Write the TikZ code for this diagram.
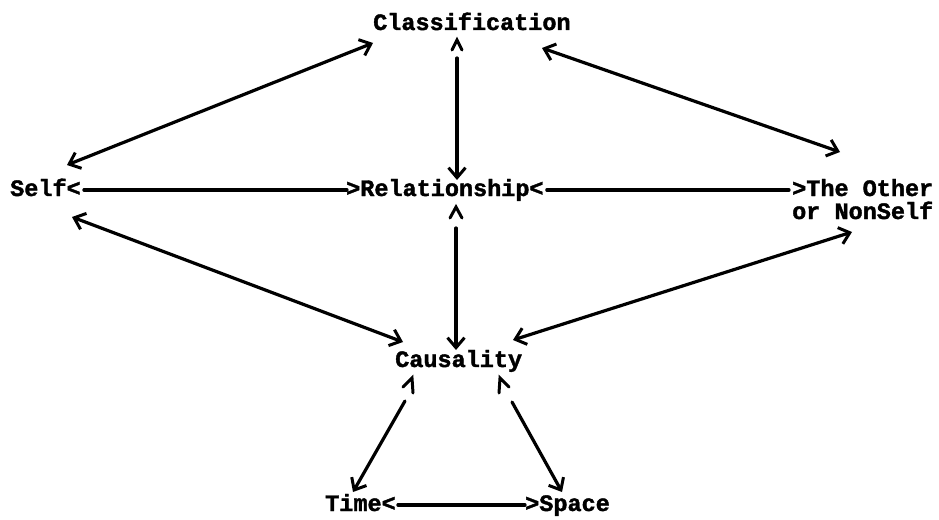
\documentclass[tikz,border=0pt]{standalone}
\usepackage{fontspec}
\newfontfamily\twfont[FakeBold=1.6]{Liberation Mono Bold}
\usetikzlibrary{arrows.meta,calc}
\begin{document}
\begin{tikzpicture}[x=1pt,y=-1pt,
  lbl/.style={font=\twfont\fontsize{23.5}{27}\selectfont, inner sep=0pt, anchor=base west},
  conn/.style={line width=3.2pt, line cap=round},
  tipb/.tip={Straight Barb[length=10pt,width=17pt,line width=3pt]},
  arr/.style={conn, -tipb},
  darr/.style={conn, tipb-tipb},
  caret/.style={line width=3pt, line join=miter, line cap=round}
]
\fill[white] (0,0) rectangle (939,519);
\useasboundingbox (0,0) rectangle (939,519);

% labels
\node[lbl] (class) at (373,30) {Classification};
\node[lbl] (self) at (10,196) {Self<};
\node[lbl] (rel) at (346,196) {>Relationship<};
\node[lbl] (other) at (792,196) {>The Other};
\node[lbl] (other2) at (792,219) {or NonSelf};
\node[lbl] (caus) at (395,367) {Causality};
\node[lbl] (time) at (325,511) {Time<};
\node[lbl] (space) at (525,511) {>Space};

% endpoints of the slanted arrows
\coordinate (sc1) at (67,165);
\coordinate (sc2) at (373,43);
\coordinate (co1) at (542,48);
\coordinate (co2) at (840,152);
\coordinate (sk1) at (72,217);
\coordinate (sk2) at (403,342);
\coordinate (ok1) at (852,232);
\coordinate (ok2) at (513,340);
\coordinate (cv1) at (457,58);
\coordinate (cv2) at (457,180);
\coordinate (rv1) at (456,228);
\coordinate (rv2) at (456,350);
\coordinate (kt1) at (405,401);
\coordinate (kt2) at (353,492);
\coordinate (ks1) at (512,402);
\coordinate (ks2) at (562,492);

% horizontal connectors (typed < > heads belong to the labels)
\draw[conn] ([xshift=3pt,yshift=6pt]self.base east) -- ([xshift=1pt,yshift=6pt]rel.base west);
\draw[conn] ([xshift=3pt,yshift=6pt]rel.base east) -- ([xshift=-3pt,yshift=6pt]other.base west);
\draw[conn] ([xshift=2pt,yshift=6pt]time.base east) -- ([xshift=0pt,yshift=6pt]space.base west);

% slanted double arrows
\draw[darr] (sc1) -- (sc2);
\draw[darr] (co1) -- (co2);
\draw[darr] (sk1) -- (sk2);
\draw[darr] (ok1) -- (ok2);

% vertical arrows
\draw[arr] (cv1) -- (cv2);
\draw[arr] (rv1) -- (rv2);

% lower arrows
\draw[arr] (kt1) -- (kt2);
\draw[arr] (ks1) -- (ks2);

% typed carets
\draw[caret] (452,50) -- (457,40) -- (462,50);
\draw[caret] (450,218) -- (456,207) -- (462,218);
\draw[caret] (403,387) -- (412,378) -- (413,393);
\draw[caret] (499,393) -- (500,378) -- (509,387);
\end{tikzpicture}
\end{document}
